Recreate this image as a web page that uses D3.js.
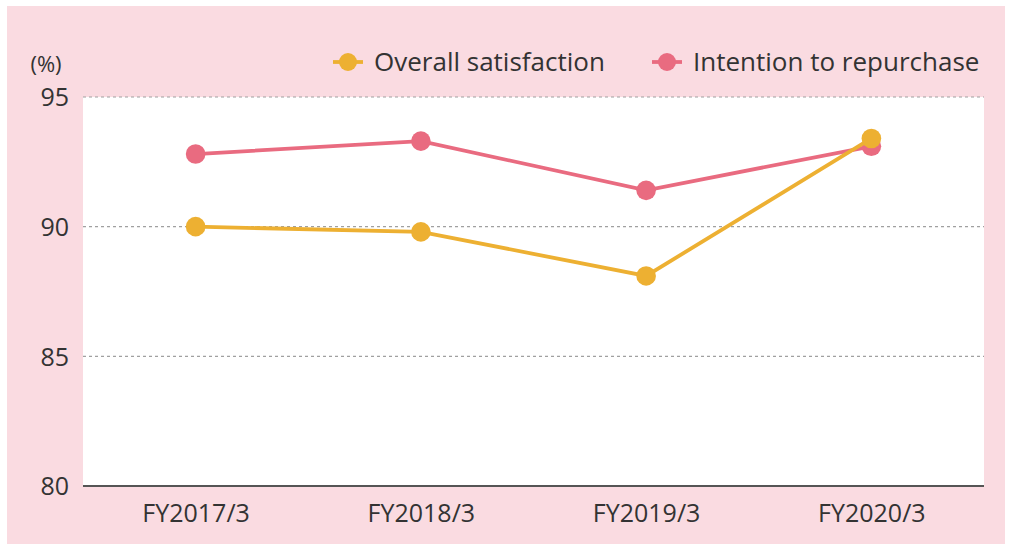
<!DOCTYPE html>
<html>
<head>
<meta charset="utf-8">
<script src="https://cdn.jsdelivr.net/npm/d3@7"></script>
<style>
  html, body { margin: 0; padding: 0; background: #ffffff; }
  svg text { font-family: "Open Sans", "Noto Sans", sans-serif; fill: #333333; }
</style>
</head>
<body>
<div id="chart"></div>
<script>
// data
var years = ["FY2017/3", "FY2018/3", "FY2019/3", "FY2020/3"];
var overallSatisfaction = [90.0, 89.8, 88.1, 93.4];
var intentionRepurchase = [92.8, 93.3, 91.4, 93.1];
var yTicks = [80, 85, 90, 95];
var seriesNames = ["Overall satisfaction", "Intention to repurchase"];

var W = 1010, H = 544;
var pinkBg = "#fadbe1";
var yellow = "#edb032";
var pink = "#e96b80";

var plot = { left: 83, right: 984, top: 97, bottom: 486 };

var svg = d3.select("#chart")
    .append("svg")
    .attr("width", W)
    .attr("height", H);

// background panel
svg.append("rect")
    .attr("x", 7).attr("y", 6)
    .attr("width", 998).attr("height", 538)
    .attr("fill", pinkBg);

svg.append("rect")
    .attr("x", plot.left).attr("y", plot.top)
    .attr("width", plot.right - plot.left)
    .attr("height", plot.bottom - plot.top)
    .attr("fill", "#ffffff");

var x = d3.scalePoint()
    .domain(years)
    .range([plot.left, plot.right])
    .padding(0.5);

var y = d3.scaleLinear()
    .domain([80, 95])
    .range([plot.bottom, plot.top]);

// dashed grid lines
svg.append("g")
    .selectAll("line")
    .data(yTicks.filter(function (t) { return t > 80; }))
    .enter()
    .append("line")
    .attr("x1", plot.left).attr("x2", plot.right)
    .attr("y1", function (d) { return y(d); })
    .attr("y2", function (d) { return y(d); })
    .attr("stroke", "#a0a0a0")
    .attr("stroke-width", 1.2)
    .attr("stroke-dasharray", "3,3");

// y axis labels
var yAxis = d3.axisLeft(y).tickValues(yTicks).tickSize(0).tickPadding(14);
var gy = svg.append("g")
    .attr("transform", "translate(" + plot.left + ",0)")
    .call(yAxis);
gy.select(".domain").remove();
gy.selectAll("text")
    .attr("font-size", 25)
    .attr("dy", "0.35em")
    .style("fill", "#333");

// x axis
var xAxis = d3.axisBottom(x).tickSize(0).tickPadding(18);
var gx = svg.append("g")
    .attr("transform", "translate(0," + plot.bottom + ")")
    .call(xAxis);
gx.select(".domain")
    .attr("d", "M" + plot.left + ",0H" + plot.right)
    .attr("stroke", "#555555")
    .attr("stroke-width", 2);
gx.selectAll("text")
    .attr("font-size", 25)
    .style("fill", "#333");

// unit label
svg.append("text")
    .attr("x", 46).attr("y", 72)
    .attr("text-anchor", "middle")
    .attr("font-size", 22)
    .text("(%)");

// lines and markers
var line = d3.line()
    .x(function (d, i) { return x(years[i]); })
    .y(function (d) { return y(d); });

function drawSeries(values, color) {
    var g = svg.append("g");
    g.append("path")
        .datum(values)
        .attr("d", line)
        .attr("fill", "none")
        .attr("stroke", color)
        .attr("stroke-width", 3.8);
    g.selectAll("circle")
        .data(values)
        .enter()
        .append("circle")
        .attr("cx", function (d, i) { return x(years[i]); })
        .attr("cy", function (d) { return y(d); })
        .attr("r", 9.8)
        .attr("fill", color);
}

drawSeries(intentionRepurchase, pink);
drawSeries(overallSatisfaction, yellow);

// legend
var legendItems = [
    { name: seriesNames[0], color: yellow, x: 333 },
    { name: seriesNames[1], color: pink, x: 652 }
];
var lg = svg.append("g")
    .selectAll("g")
    .data(legendItems)
    .enter()
    .append("g")
    .attr("transform", function (d) { return "translate(" + d.x + ",62)"; });
lg.append("line")
    .attr("x1", 0).attr("x2", 30)
    .attr("stroke", function (d) { return d.color; })
    .attr("stroke-width", 3.8);
lg.append("circle")
    .attr("cx", 15).attr("r", 9)
    .attr("fill", function (d) { return d.color; });
lg.append("text")
    .attr("x", 41)
    .attr("dy", "0.35em")
    .attr("font-size", 26)
    .text(function (d) { return d.name; });
</script>
</body>
</html>
